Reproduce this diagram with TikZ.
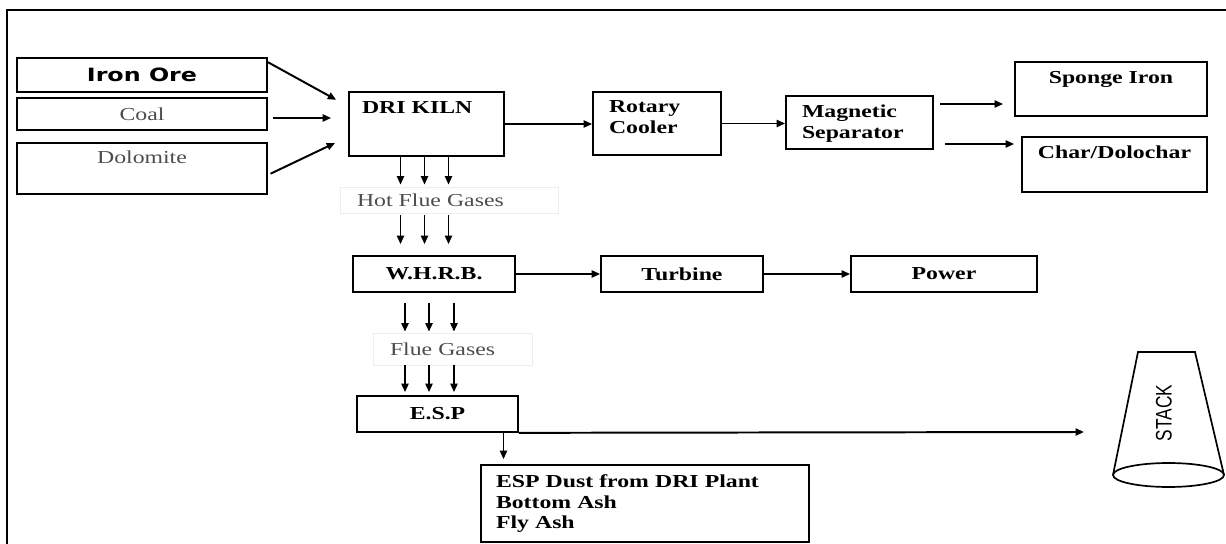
\documentclass[tikz,border=0pt]{standalone}
\usepackage{fontspec}
\setmainfont{Liberation Serif}
\setsansfont{Liberation Sans}
\newfontfamily\flowfont{Liberation Serif}[FakeStretch=1.3]
\newfontfamily\orefont{DejaVu Sans}[FakeStretch=1.3]
\usetikzlibrary{arrows.meta, positioning, calc}
\newdimen\pxu \pxu=0.025cm
\newcommand\flowbold{\flowfont\bfseries\fontsize{13pt}{14.4pt}\selectfont}
\newcommand\flowreg{\flowfont\fontsize{13pt}{14.4pt}\selectfont}
\newcommand\orebold{\orefont\bfseries\fontsize{13pt}{15pt}\selectfont}

\begin{document}
\begin{tikzpicture}[x=0.025cm, y=-0.025cm,
  box/.style={draw, line width=1.2pt, inner ysep=0pt, font=\flowbold},
  inbox/.style={box, font=\flowreg, text=black!70},
  gasbox/.style={draw=black!7, line width=0.5pt, inner ysep=0pt, font=\flowreg, text=black!70, align=left},
  arr/.style={line width=1.4pt, -{Triangle[length=6pt, width=5pt]}}]

  \useasboundingbox (0,0) rectangle (1226,544);
  \draw[line width=2pt] (7,544) -- (7,10) -- (1226,10);

  % raw materials
  \node[box, font=\orebold, minimum width=250\pxu, minimum height=34\pxu] (ore) at (142,75) {Iron Ore};
  \node[inbox, minimum width=250\pxu, minimum height=32\pxu] (coal) at (142,114) {Coal};
  \node[inbox, minimum width=250\pxu, minimum height=51\pxu, text height=21\pxu, text depth=30\pxu] (dolomite) at (142,168.5) {Dolomite};

  % kiln line
  \node[box, minimum width=155\pxu, minimum height=64\pxu, inner xsep=13\pxu, text width=129\pxu, align=left, text height=22\pxu, text depth=42\pxu] (kiln) at (426.5,124) {DRI KILN};
  \node[box, minimum width=128\pxu, minimum height=63\pxu, inner xsep=16\pxu, text width=96\pxu, align=left, text height=21\pxu, text depth=42\pxu] (rotary) at (657,123.5) {Rotary\\Cooler};
  \node[box, minimum width=147\pxu, minimum height=53\pxu, inner xsep=16\pxu, text width=115\pxu, align=left, text height=22\pxu, text depth=31\pxu] (magnetic) at (859.5,122.5) {Magnetic\\Separator};
  \node[box, minimum width=192\pxu, minimum height=54\pxu, text height=22\pxu, text depth=32\pxu] (sponge) at (1111,89) {Sponge Iron};
  \node[box, minimum width=185\pxu, minimum height=55\pxu, text height=22\pxu, text depth=33\pxu] (char) at (1114.5,164.5) {Char/Dolochar};

  % gas line
  \node[gasbox, minimum height=26\pxu, inner xsep=17\pxu, text width=184\pxu] (hot) at (449,200) {Hot Flue Gases};
  \node[box, minimum width=162\pxu, minimum height=36\pxu] (whrb) at (434,274) {W.H.R.B.};
  \node[box, minimum width=162\pxu, minimum height=36\pxu] (turbine) at (682,274) {Turbine};
  \node[box, minimum width=186\pxu, minimum height=36\pxu] (power) at (944,274) {Power};
  \node[gasbox, minimum height=32\pxu, inner xsep=17\pxu, text width=125\pxu] (flue) at (452.5,349) {Flue Gases};
  \node[box, minimum width=161\pxu, minimum height=36\pxu] (esp) at (437.5,414) {E.S.P};
  \node[box, minimum width=328\pxu, minimum height=77\pxu, inner xsep=15\pxu, text width=298\pxu, align=left, text height=23\pxu, text depth=54\pxu] (dust) at (645,503.5) {ESP Dust from DRI Plant\\Bottom Ash\\Fly Ash};

  % stack
  \draw[line width=1.2pt] (1113,475) -- (1138,352) -- (1195,352) -- (1224,475);
  \draw[line width=1.2pt] (1168.5,475) ellipse [x radius=55.5\pxu, y radius=12\pxu];
  \node[rotate=90, font=\sffamily\fontsize{12.3pt}{14pt}\selectfont] (stacklbl) at (1164,413) {\scalebox{1}[1.3]{STACK}};
  \coordinate (stackin) at (1084,432);

  % connectors
  \draw[arr, shorten >=13.6\pxu] ([yshift=-5\pxu]ore.north east) -- ([yshift=17.6\pxu]kiln.west);
  \draw[arr, shorten <=5\pxu, shorten >=17\pxu] ([yshift=-4\pxu]coal.east) -- ([yshift=-4\pxu]coal.east -| kiln.west);
  \draw[arr, shorten <=3\pxu, shorten >=14.4\pxu] ([yshift=-6.5\pxu]dolomite.east) -- ([yshift=-12.7\pxu]kiln.west);
  \draw[arr] (kiln.east) -- (kiln.east -| rotary.west);
  \draw[arr] (rotary.east) -- (rotary.east -| magnetic.west);
  \draw[arr, shorten <=6\pxu, shorten >=11\pxu] ([yshift=18.5\pxu]magnetic.east) -- ([yshift=18.5\pxu]magnetic.east -| sponge.west);
  \draw[arr, shorten <=11\pxu, shorten >=7\pxu] ([yshift=-21.5\pxu]magnetic.east) -- ([yshift=-21.5\pxu]magnetic.east -| char.west);
  \draw[arr] (whrb) -- (turbine);
  \draw[arr] (turbine) -- (power);
  \foreach \d in {-26,-2,22} {
    \draw[arr, shorten >=2\pxu] ($(kiln.south)+(\d,0)$) -- ($(kiln.south |- hot.north)+(\d,0)$);
    \draw[arr, shorten <=2\pxu, shorten >=11\pxu] ($(kiln.south |- hot.south)+(\d,0)$) -- ($(kiln.south |- whrb.north)+(\d,0)$);
  }
  \foreach \d in {-29,-5,20} {
    \draw[arr, shorten <=10\pxu, shorten >=1\pxu] ($(whrb.south)+(\d,0)$) -- ($(whrb.south |- flue.north)+(\d,0)$);
    \draw[arr, shorten >=3\pxu] ($(whrb.south |- flue.south)+(\d,0)$) -- ($(whrb.south |- esp.north)+(\d,0)$);
  }
  \draw[arr, shorten >=5\pxu] ($(esp.south)+(66,0)$) -- ($(esp.south |- dust.north)+(66,0)$);
  \draw[arr] (esp.south east) -- (stackin);
\end{tikzpicture}
\end{document}
